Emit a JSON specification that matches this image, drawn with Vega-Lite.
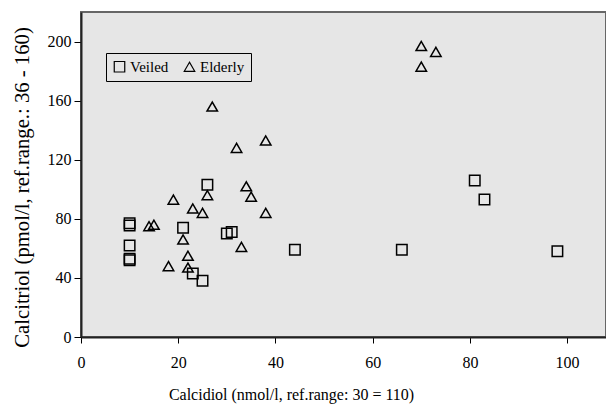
{
  "$schema": "https://vega.github.io/schema/vega-lite/v6.json",
  "width": 525,
  "height": 325,
  "autosize": {"type": "none"},
  "padding": {"left": 81, "top": 12, "right": 0, "bottom": 67},
  "background": "white",
  "config": {
    "view": {"fill": "#e6e6e6", "stroke": "#666666", "strokeWidth": 2},
    "font": "Liberation Serif"
  },
  "data": {
    "values": [
      {"group": "Veiled", "calcidiol": 10, "calcitriol": 77},
      {"group": "Veiled", "calcidiol": 10, "calcitriol": 75.5},
      {"group": "Veiled", "calcidiol": 10, "calcitriol": 62},
      {"group": "Veiled", "calcidiol": 10, "calcitriol": 53},
      {"group": "Veiled", "calcidiol": 10, "calcitriol": 52},
      {"group": "Veiled", "calcidiol": 21, "calcitriol": 74},
      {"group": "Veiled", "calcidiol": 26, "calcitriol": 103},
      {"group": "Veiled", "calcidiol": 23, "calcitriol": 43},
      {"group": "Veiled", "calcidiol": 25, "calcitriol": 38},
      {"group": "Veiled", "calcidiol": 30, "calcitriol": 70},
      {"group": "Veiled", "calcidiol": 31, "calcitriol": 71},
      {"group": "Veiled", "calcidiol": 44, "calcitriol": 59},
      {"group": "Veiled", "calcidiol": 66, "calcitriol": 59},
      {"group": "Veiled", "calcidiol": 81, "calcitriol": 106},
      {"group": "Veiled", "calcidiol": 83, "calcitriol": 93},
      {"group": "Veiled", "calcidiol": 98, "calcitriol": 58},
      {"group": "Elderly", "calcidiol": 70, "calcitriol": 197},
      {"group": "Elderly", "calcidiol": 73, "calcitriol": 193},
      {"group": "Elderly", "calcidiol": 70, "calcitriol": 183},
      {"group": "Elderly", "calcidiol": 27, "calcitriol": 156},
      {"group": "Elderly", "calcidiol": 32, "calcitriol": 128},
      {"group": "Elderly", "calcidiol": 38, "calcitriol": 133},
      {"group": "Elderly", "calcidiol": 34, "calcitriol": 102},
      {"group": "Elderly", "calcidiol": 35, "calcitriol": 95},
      {"group": "Elderly", "calcidiol": 26, "calcitriol": 96},
      {"group": "Elderly", "calcidiol": 19, "calcitriol": 93},
      {"group": "Elderly", "calcidiol": 23, "calcitriol": 87},
      {"group": "Elderly", "calcidiol": 25, "calcitriol": 84},
      {"group": "Elderly", "calcidiol": 38, "calcitriol": 84},
      {"group": "Elderly", "calcidiol": 14, "calcitriol": 75},
      {"group": "Elderly", "calcidiol": 15, "calcitriol": 76},
      {"group": "Elderly", "calcidiol": 21, "calcitriol": 66},
      {"group": "Elderly", "calcidiol": 33, "calcitriol": 61},
      {"group": "Elderly", "calcidiol": 22, "calcitriol": 55},
      {"group": "Elderly", "calcidiol": 18, "calcitriol": 48},
      {"group": "Elderly", "calcidiol": 22, "calcitriol": 47}
    ]
  },
  "mark": {"type": "point", "filled": false, "stroke": "black", "strokeWidth": 1.5, "size": 110, "opacity": 1},
  "encoding": {
    "x": {
      "field": "calcidiol", "type": "quantitative",
      "scale": {"domain": [0, 108], "nice": false, "zero": true},
      "axis": {
        "title": "Calcidiol (nmol/l, ref.range: 30 = 110)",
        "values": [0, 20, 40, 60, 80, 100],
        "grid": false,
        "labelFlush": false,
        "domainColor": "#222222", "domainWidth": 2,
        "tickColor": "black", "tickSize": 6, "tickWidth": 1,
        "labelFont": "Liberation Serif", "labelFontSize": 16, "labelColor": "black", "labelPadding": 11,
        "titleFont": "Liberation Serif", "titleFontSize": 16, "titleFontWeight": "normal", "titleColor": "black",
        "titleX": 210, "titleY": 62, "titleAlign": "center", "titleBaseline": "alphabetic"
      }
    },
    "y": {
      "field": "calcitriol", "type": "quantitative",
      "scale": {"domain": [0, 220], "nice": false},
      "axis": {
        "title": "Calcitriol (pmol/l, ref.range.:  36 - 160)",
        "values": [0, 40, 80, 120, 160, 200],
        "grid": false,
        "labelFlush": false,
        "domainColor": "#222222", "domainWidth": 2,
        "tickColor": "black", "tickSize": 7, "tickWidth": 1,
        "labelFont": "Liberation Serif", "labelFontSize": 16, "labelColor": "black", "labelPadding": 3,
        "titleFont": "Liberation Serif", "titleFontSize": 20.7, "titleFontWeight": "normal", "titleColor": "black",
        "titleX": -53, "titleY": 175, "titleAngle": -90, "titleAlign": "center", "titleBaseline": "alphabetic"
      }
    },
    "shape": {
      "field": "group", "type": "nominal",
      "scale": {"domain": ["Veiled", "Elderly"], "range": ["square", "triangle-up"]},
      "legend": {
        "title": null,
        "orient": "none",
        "legendX": 25,
        "legendY": 41,
        "direction": "horizontal",
        "strokeColor": "black",
        "fillColor": "#e6e6e6",
        "padding": 6,
        "columnPadding": 12,
        "labelFont": "Liberation Serif",
        "labelFontSize": 15,
        "labelColor": "black",
        "labelOffset": 3,
        "symbolSize": 110,
        "symbolStrokeColor": "black",
        "symbolStrokeWidth": 1.2,
        "symbolFillColor": "transparent"
      }
    }
  }
}
